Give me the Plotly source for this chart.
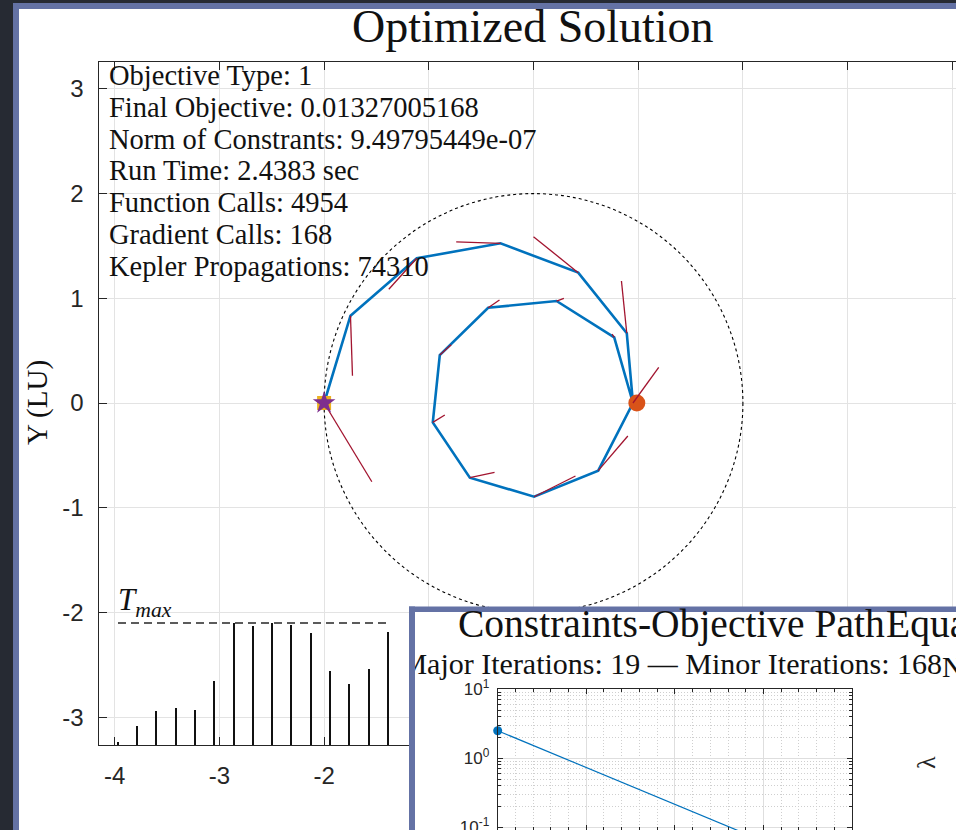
import plotly.graph_objects as go

W, H = 956, 830

# ---------------- trajectory data (LU) ----------------
node_x = [-2.000, -1.748, -1.115, -0.315, 0.427, 0.891, 0.950, 0.618, 0.006,
          -0.608, -0.962, -0.895, -0.433, 0.220, 0.771, 0.950]
node_y = [0.000, 0.834, 1.382, 1.525, 1.245, 0.666, 0.000, -0.646, -0.895,
          -0.713, -0.185, 0.458, 0.910, 0.974, 0.627, 0.000]
# thrust direction segment drawn from each node (LU)
thrust_dx = [0.456, 0.019, -0.267, -0.423, -0.427, -0.051, 0.246, 0.283, 0.395,
             0.236, 0.115, 0.109, 0.108, 0.070, -0.020]
thrust_dy = [-0.752, -0.573, -0.296, 0.013, 0.343, 0.499, 0.341, 0.331, 0.198,
             0.051, 0.070, 0.099, 0.074, 0.026, 0.030]
start_x, start_y = -2.0, 0.0
target_x, target_y = 0.987, 0.0
orbit_radius = 2.0

# thrust magnitude per segment (fraction of T_max)
thrust_mag = [0.03, 0.16, 0.28, 0.31, 0.29, 0.53, 1.00, 0.98, 1.00, 0.99,
              0.92, 0.61, 0.50, 0.63, 0.93]
t_max = 1.0

# constraints-objective path (inset)
path_x = [0.0, 3.0]
path_y = [2.51, 0.063]

main_ticks = [-4, -3, -2, -1, 0, 1, 2, 3, 4]
main_ticktext = ["-4", "-3", "-2", "-1", "0", "1", "2", "3", "4"]
inset_ytickvals = [0.1, 1, 10]
inset_yticktext = ["10<sup>-1</sup>", "10<sup>0</sup>", "10<sup>1</sup>"]

info_lines = [
    "Objective Type: 1",
    "Final Objective: 0.01327005168",
    "Norm of Constrants: 9.49795449e-07",
    "Run Time: 2.4383 sec",
    "Function Calls: 4954",
    "Gradient Calls: 168",
    "Kepler Propagations: 74310",
]

SERIF = "Liberation Serif"
SANS = "Liberation Sans"
INK = "#262626"
BLUE = "#0072BD"
RED = "#A2142F"
FRAME = "#6472a5"
DARK = "#262a33"


def px(X):
    return X / W


def py(Y):
    return 1 - Y / H


fig = go.Figure()

# ---- main trajectory axes (xy) ----
fig.add_trace(go.Scatter(x=node_x, y=node_y, mode="lines",
                         line=dict(color=BLUE, width=2.6), hoverinfo="skip"))
fig.add_trace(go.Scatter(x=[target_x], y=[target_y], mode="markers",
                         marker=dict(color="#D95319", size=17), hoverinfo="skip"))
seg_x, seg_y = [], []
for i in range(len(thrust_dx)):
    seg_x += [node_x[i], node_x[i] + thrust_dx[i], None]
    seg_y += [node_y[i], node_y[i] + thrust_dy[i], None]
fig.add_trace(go.Scatter(x=seg_x, y=seg_y, mode="lines",
                         line=dict(color=RED, width=1.3), hoverinfo="skip"))
fig.add_trace(go.Scatter(x=[start_x], y=[start_y], mode="markers",
                         marker=dict(symbol="square", color="#EDB120", size=14),
                         hoverinfo="skip"))
fig.add_trace(go.Scatter(x=[start_x], y=[start_y], mode="markers",
                         marker=dict(symbol="star", color="#7E2F8E", size=17,
                                     line=dict(width=0)),
                         hoverinfo="skip"))

# ---- window carrier (x2y2) with clipped subtitle ----
fig.add_trace(go.Scatter(x=[(942 - 415) / 541], y=[(830 - 666) / 218],
                         mode="text", text=["Major Iterations: 19 \u2014 Minor Iterations: 168"],
                         textposition="middle left",
                         textfont=dict(family=SERIF, size=30, color="#111"),
                         xaxis="x2", yaxis="y2", hoverinfo="skip", cliponaxis=True))

# ---- inset constraints-objective path (x3y3) ----
fig.add_trace(go.Scatter(x=path_x, y=path_y, mode="lines",
                         line=dict(color=BLUE, width=1.2),
                         xaxis="x3", yaxis="y3", hoverinfo="skip"))
fig.add_trace(go.Scatter(x=path_x[:1], y=path_y[:1], mode="markers",
                         marker=dict(color=BLUE, size=9),
                         xaxis="x3", yaxis="y3", hoverinfo="skip", cliponaxis=False))

# ---- thrust history (x4y4) ----
idx = list(range(len(thrust_mag)))
fig.add_trace(go.Bar(x=idx, y=thrust_mag, width=0.08,
                     marker=dict(color="#111", line=dict(width=0)),
                     xaxis="x4", yaxis="y4", hoverinfo="skip"))
fig.add_trace(go.Scatter(x=[idx[0], idx[-1]], y=[t_max, t_max], mode="lines",
                         line=dict(color=INK, width=1.3, dash="8px,5px"),
                         xaxis="x4", yaxis="y4", hoverinfo="skip"))

# ---------------- axes ----------------
scale = 104.7
x0_px, xc_px = 98.5, 533.5
y_bot, y_top, yc_px = 745.0, 62.0, 403.0

axis_common = dict(
    showgrid=True, gridcolor="#e3e3e3", gridwidth=1, zeroline=False,
    ticks="inside", ticklen=8, tickwidth=1, tickcolor=INK,
    showline=True, linecolor=INK, linewidth=1.3,
    tickfont=dict(family=SANS, size=24, color=INK),
    tickmode="array", tickvals=main_ticks, ticktext=main_ticktext,
    fixedrange=True, automargin=False,
)

hidden = dict(visible=True, showgrid=False, showline=False, zeroline=False,
              showticklabels=False, ticks="", range=[0, 1], fixedrange=True,
              automargin=False)

minor_dots = dict(showgrid=True, griddash="1px,2px", gridcolor="#cfcfcf",
                  gridwidth=1, ticks="inside", ticklen=3, tickcolor=INK)

fig.update_layout(
    width=W, height=H, margin=dict(l=0, r=0, t=0, b=0),
    paper_bgcolor=DARK, plot_bgcolor="rgba(0,0,0,0)",
    showlegend=False, bargap=0,
    xaxis=dict(axis_common, domain=[px(x0_px), 1],
               range=[(x0_px - xc_px) / scale, (W - xc_px) / scale],
               mirror="ticks", anchor="y", ticklabelstandoff=9),
    yaxis=dict(axis_common, domain=[py(y_bot), py(y_top)],
               range=[(yc_px - y_bot) / scale, (yc_px - y_top) / scale],
               mirror=False, anchor="x", ticklabelstandoff=9),
    xaxis2=dict(hidden, domain=[px(415), 1], anchor="y2"),
    yaxis2=dict(hidden, domain=[0, py(612)], anchor="x2"),
    xaxis3=dict(domain=[px(497.7), px(852)], range=[0, 4], anchor="y3",
                dtick=1, tick0=0, showticklabels=False,
                showgrid=True, gridcolor="#dedede", gridwidth=1, zeroline=False,
                ticks="inside", ticklen=5, tickcolor=INK,
                showline=True, linecolor=INK, linewidth=1, mirror="ticks",
                minor=dict(minor_dots, dtick=0.2),
                fixedrange=True, automargin=False),
    yaxis3=dict(type="log", domain=[0, py(689.3)], range=[1 - (830 - 689.3) / 69, 1],
                anchor="x3", tickmode="array", tickvals=inset_ytickvals,
                ticktext=inset_yticktext, ticklabeloverflow="allow",
                tickfont=dict(family=SANS, size=17, color=INK),
                showgrid=True, gridcolor="#dedede", gridwidth=1, zeroline=False,
                ticks="inside", ticklen=5, tickcolor=INK,
                showline=True, linecolor=INK, linewidth=1, mirror="ticks",
                minor=dict(minor_dots,
                           tickvals=[m * 10.0 ** e for e in (-2, -1, 0, 1) for m in range(2, 10)]),
                ticklabelstandoff=4, fixedrange=True, automargin=False),
    xaxis4=dict(hidden, domain=[px(99), px(405)],
                range=[(99 - 118) / 19.3, (405 - 118) / 19.3], anchor="y4"),
    yaxis4=dict(hidden, domain=[py(745), py(598.6)], range=[0, 1.2], anchor="x4"),
)

# ---------------- window frames ----------------
shapes = [
    # main window frame and face
    dict(type="rect", xref="paper", yref="paper", x0=px(13), x1=1.01, y0=-0.01, y1=py(3),
         fillcolor=FRAME, line=dict(width=0), layer="below"),
    dict(type="rect", xref="paper", yref="paper", x0=px(19), x1=1.01, y0=-0.01, y1=py(9),
         fillcolor="white", line=dict(width=0), layer="below"),
    # reference orbit
    dict(type="circle", xref="x", yref="y", x0=-orbit_radius, x1=orbit_radius,
         y0=-orbit_radius, y1=orbit_radius,
         line=dict(color="black", width=1.1, dash="dot"), layer="between"),
    # second window face (drawn inside its carrier subplot)
    dict(type="rect", xref="x2", yref="y2", x0=-1, x1=2, y0=-1, y1=2,
         fillcolor="white", line=dict(width=0), layer="below"),
    # second window frame
    dict(type="rect", xref="paper", yref="paper", x0=px(409), x1=px(415), y0=-0.01, y1=py(606.5),
         fillcolor=FRAME, line=dict(width=0), layer="above"),
    dict(type="rect", xref="paper", yref="paper", x0=px(409), x1=1.01, y0=py(612), y1=py(606.5),
         fillcolor=FRAME, line=dict(width=0), layer="above"),
]
fig.update_layout(shapes=shapes)

# ---------------- text ----------------
ann = []
ann.append(dict(text="Optimized Solution", x=px(533), y=py(26.5), xref="paper", yref="paper",
                xanchor="center", yanchor="middle", showarrow=False,
                font=dict(family=SERIF, size=46, color="#111")))
for k, line in enumerate(info_lines):
    ann.append(dict(text=line, x=px(107), y=py(75.5 + 31.8 * k), xref="paper", yref="paper",
                    xanchor="left", yanchor="middle", showarrow=False,
                    font=dict(family=SERIF, size=28.5, color="#111")))
ann.append(dict(text="Y (LU)", x=px(37), y=py(403), xref="paper", yref="paper",
                xanchor="center", yanchor="middle", textangle=-90, showarrow=False,
                font=dict(family=SERIF, size=29, color="#111")))
ann.append(dict(text="<i>T</i><sub><i>max</i></sub>", x=px(116), y=py(602), xref="paper",
                yref="paper", xanchor="left", yanchor="middle", showarrow=False,
                font=dict(family=SERIF, size=31, color="#111")))
ann.append(dict(text="Constraints-Objective Path", x=px(671), y=py(624), xref="paper",
                yref="paper", xanchor="center", yanchor="middle", showarrow=False,
                font=dict(family=SERIF, size=39.5, color="#111")))
ann.append(dict(text="Equality", x=px(884), y=py(624), xref="paper", yref="paper",
                xanchor="left", yanchor="middle", showarrow=False,
                font=dict(family=SERIF, size=39.5, color="#111")))
ann.append(dict(text="N", x=px(940), y=py(666), xref="paper", yref="paper",
                xanchor="left", yanchor="middle", showarrow=False,
                font=dict(family=SERIF, size=30, color="#111")))
ann.append(dict(text="\u03bb", x=px(926), y=py(763), xref="paper", yref="paper",
                xanchor="center", yanchor="middle", textangle=-90, showarrow=False,
                font=dict(family=SERIF, size=26, color=INK)))
fig.update_layout(annotations=ann)

fig.write_html("out.html", config={"displayModeBar": False})
